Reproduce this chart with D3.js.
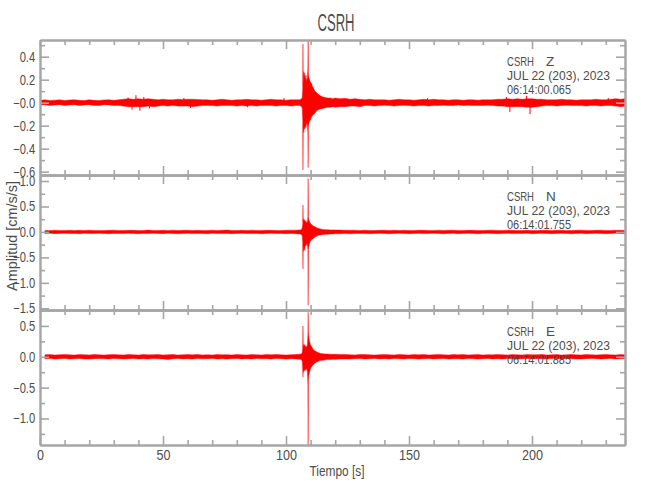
<!DOCTYPE html>
<html><head><meta charset="utf-8">
<script src="https://cdn.jsdelivr.net/npm/d3@7"></script>
<style>body{margin:0;background:#fff}svg{display:block}</style>
</head><body><svg id="c" width="650" height="500"></svg>
<script>
// ---------- texts ----------
const titleText = "CSRH";
const station = "CSRH";
const components = ["Z", "N", "E"];
const dateLabel = "JUL 22 (203), 2023";
const startTimes = ["06:14:00.065", "06:14:01.755", "06:14:01.885"];
const xLabel = "Tiempo [s]";
const yLabel = "Amplitud [cm/s/s]";

// ---------- axes ----------
const xDomain = [0, 237.8];
const xTicksMajor = [0, 50, 100, 150, 200];
const xTicksMinor = [10,20,30,40,60,70,80,90,110,120,130,140,160,170,180,190,210,220,230];
const yDomainZ = [-0.629, 0.545];
const yDomainN = [-1.533, 1.118];
const yDomainE = [-1.43, 0.758];
const yMajorZ = [-0.6, -0.4, -0.2, 0, 0.2, 0.4];
const yMinorZ = [-0.5, -0.3, -0.1, 0.1, 0.3, 0.5];
const yMajorN = [-1.5, -1.0, -0.5, 0, 0.5, 1.0];
const yMinorN = [-1.25, -0.75, -0.25, 0.25, 0.75];
const yMajorE = [-1.0, -0.5, 0, 0.5];
const yMinorE = [-1.25, -0.75, -0.25, 0.25];
const zeroLabels = ["\u22120.0", "0.0", "0.0"];

// ---------- time samples (s) ----------
const tBefore = d3.range(0, 105, 2);          // 0..104 every 2 s
const tEvent = [105,105.5,106,106.3,106.6,106.8,106.9,107.0,107.2,107.4,107.6,107.8,108.1,108.4,108.7,
  108.9,109.0,109.1,109.3,109.6,109.9,110.3,110.8,111.3,111.8,112.3,112.8,113.3,114,115,116,117,118,119];
const tAfter = d3.range(120, 243, 2);          // 120..242 every 2 s

// ---------- Z component envelope (max / min per sample window), cm/s/s ----------
const zHiBefore = [0.020,0.025,0.018,0.022,0.025,0.018,0.024,0.025,0.020,0.018,
  0.025,0.020,0.018,0.024,0.025,0.020,0.025,0.030,0.035,0.030,
  0.035,0.030,0.035,0.030,0.025,0.030,0.025,0.025,0.030,0.028,
  0.030,0.030,0.028,0.025,0.025,0.020,0.025,0.030,0.025,0.020,
  0.025,0.025,0.030,0.025,0.025,0.022,0.025,0.030,0.025,0.025,
  0.022,0.025,0.025];
const zLoBefore = [-0.020,-0.018,-0.025,-0.020,-0.018,-0.024,-0.020,-0.018,-0.025,-0.020,
  -0.018,-0.024,-0.025,-0.018,-0.020,-0.025,-0.024,-0.030,-0.035,-0.035,
  -0.035,-0.035,-0.030,-0.035,-0.030,-0.025,-0.030,-0.025,-0.030,-0.030,
  -0.030,-0.035,-0.030,-0.025,-0.024,-0.025,-0.030,-0.025,-0.024,-0.025,
  -0.030,-0.025,-0.030,-0.025,-0.030,-0.025,-0.024,-0.025,-0.030,-0.025,
  -0.025,-0.030,-0.025];
const zHiEvent = [0.025,0.025,0.030,0.035,0.045, 0.120,0.510,0.150,0.270,0.220,0.260,
  0.200,0.240,0.180,0.220, 0.300,0.600,0.260,0.220,0.200, 0.180,0.170,0.140,0.120,0.100,
  0.090,0.080,0.070,0.060,0.050, 0.045,0.040,0.040,0.035];
const zLoEvent = [-0.025,-0.025,-0.030,-0.035,-0.045, -0.150,-0.585,-0.200,-0.260,-0.220,-0.230,
  -0.200,-0.220,-0.170,-0.200, -0.260,-0.565,-0.220,-0.180,-0.160, -0.150,-0.130,-0.110,-0.100,-0.090,
  -0.075,-0.065,-0.060,-0.055,-0.050, -0.045,-0.040,-0.040,-0.035];
const zHiAfter = [0.040,0.035,0.038,0.030,0.035,0.030,0.025,0.030,0.025,0.025,
  0.025,0.022,0.025,0.030,0.025,0.025,0.022,0.025,0.030,0.025,
  0.030,0.025,0.025,0.022,0.025,0.025,0.020,0.025,0.025,0.022,
  0.025,0.025,0.025,0.030,0.030,0.035,0.030,0.035,0.030,0.035,
  0.035,0.030,0.030,0.025,0.025,0.025,0.030,0.025,0.025,0.022,
  0.025,0.025,0.025,0.030,0.025,0.025,0.030,0.035,0.030,0.035,
  0.035,0.030];
const zLoAfter = [-0.040,-0.035,-0.035,-0.030,-0.030,-0.035,-0.025,-0.025,-0.030,-0.025,
  -0.022,-0.025,-0.030,-0.025,-0.022,-0.025,-0.030,-0.025,-0.025,-0.030,
  -0.025,-0.025,-0.022,-0.025,-0.025,-0.020,-0.025,-0.022,-0.025,-0.025,
  -0.025,-0.022,-0.025,-0.030,-0.030,-0.035,-0.035,-0.035,-0.035,-0.040,
  -0.040,-0.035,-0.030,-0.025,-0.025,-0.030,-0.025,-0.022,-0.025,-0.025,
  -0.025,-0.030,-0.025,-0.025,-0.030,-0.025,-0.025,-0.030,-0.035,-0.030,
  -0.035,-0.030];
// isolated peaks of the Z trace (time s, amplitude cm/s/s)
const zPeakT = [35.8, 37.4, 39.0, 40.6, 42.2, 44.5, 58.5, 61.2, 84.4, 99.2, 157.5, 189.6, 191.0, 197.8, 199.2, 231.0];
const zPeakV = [0.045, -0.060, 0.065, -0.070, 0.050, -0.050, 0.040, -0.045, -0.040, 0.040, 0.040, 0.050, -0.080, 0.060, -0.100, 0.040];

// ---------- N component ----------
const nHiBefore = [null,0.030,0.026,0.033,0.028,0.030,0.035,0.027,0.031,0.029,
  0.034,0.028,0.030,0.026,0.032,0.035,0.029,0.027,0.031,0.033,
  0.028,0.030,0.036,0.029,0.027,0.032,0.030,0.034,0.028,0.031,
  0.035,0.029,0.032,0.027,0.030,0.033,0.028,0.031,0.036,0.030,
  0.027,0.032,0.029,0.034,0.030,0.028,0.033,0.031,0.027,0.030,
  0.032,0.034,0.035];
const nLoBefore = [null,-0.031,-0.028,-0.034,-0.030,-0.027,-0.033,-0.029,-0.035,-0.028,
  -0.030,-0.032,-0.027,-0.031,-0.034,-0.029,-0.030,-0.033,-0.028,-0.031,
  -0.036,-0.029,-0.030,-0.027,-0.032,-0.034,-0.028,-0.031,-0.037,-0.030,
  -0.028,-0.033,-0.029,-0.031,-0.035,-0.027,-0.030,-0.032,-0.029,-0.034,
  -0.031,-0.028,-0.030,-0.033,-0.029,-0.035,-0.030,-0.027,-0.032,-0.030,
  -0.034,-0.031,-0.035];
const nHiEvent = [0.040,0.040,0.045,0.050,0.080, 0.150,0.530,0.200,0.260,0.220,0.240,
  0.200,0.220,0.170,0.200, 0.300,1.050,0.300,0.240,0.200, 0.170,0.150,0.130,0.110,0.100,
  0.085,0.075,0.065,0.060,0.050, 0.045,0.045,0.040,0.040];
const nLoEvent = [-0.040,-0.040,-0.045,-0.050,-0.080, -0.200,-0.730,-0.250,-0.380,-0.320,-0.360,
  -0.250,-0.280,-0.220,-0.260, -0.350,-1.440,-0.350,-0.280,-0.220, -0.180,-0.160,-0.140,-0.120,-0.100,
  -0.085,-0.075,-0.065,-0.060,-0.050, -0.045,-0.045,-0.040,-0.040];
const nHiAfter = [0.036,0.038,0.034,0.031,0.035,0.029,0.033,0.030,0.027,0.032,
  0.034,0.029,0.031,0.028,0.033,0.030,0.027,0.035,0.031,0.028,
  0.030,0.034,0.029,0.032,0.035,0.028,0.030,0.033,0.031,0.027,
  0.029,0.032,0.035,0.030,0.028,0.034,0.031,0.029,0.027,0.033,
  0.030,0.028,0.034,0.031,0.029,0.032,0.035,0.030,0.027,0.031,
  0.034,0.029,0.028,0.032,0.035,0.030,0.028,0.033,0.031,0.030,
  null,null];
const nLoAfter = [-0.038,-0.035,-0.033,-0.036,-0.031,-0.029,-0.032,-0.035,-0.030,-0.028,
  -0.031,-0.034,-0.030,-0.027,-0.032,-0.035,-0.029,-0.028,-0.033,-0.030,
  -0.027,-0.031,-0.035,-0.029,-0.028,-0.034,-0.030,-0.027,-0.031,-0.036,
  -0.030,-0.028,-0.032,-0.034,-0.029,-0.027,-0.033,-0.031,-0.030,-0.028,
  -0.035,-0.030,-0.027,-0.031,-0.034,-0.029,-0.028,-0.032,-0.035,-0.030,
  -0.027,-0.034,-0.031,-0.028,-0.030,-0.035,-0.029,-0.027,-0.032,-0.034,
  null,null];
const nPeakT = [];
const nPeakV = [];

// ---------- E component ----------
const eHiBefore = [null,0.032,0.036,0.029,0.034,0.038,0.031,0.028,0.035,0.033,
  0.030,0.037,0.032,0.029,0.034,0.036,0.031,0.030,0.038,0.033,
  0.029,0.035,0.031,0.034,0.037,0.030,0.033,0.036,0.029,0.032,
  0.035,0.031,0.038,0.030,0.033,0.029,0.036,0.032,0.034,0.030,
  0.037,0.031,0.029,0.035,0.033,0.030,0.036,0.032,0.038,0.031,
  0.029,0.034,0.036];
const eLoBefore = [null,-0.034,-0.030,-0.037,-0.032,-0.029,-0.036,-0.033,-0.030,-0.035,
  -0.038,-0.031,-0.029,-0.034,-0.036,-0.030,-0.033,-0.037,-0.031,-0.029,
  -0.035,-0.032,-0.038,-0.030,-0.034,-0.036,-0.045,-0.033,-0.029,-0.035,
  -0.031,-0.037,-0.030,-0.034,-0.032,-0.029,-0.036,-0.033,-0.038,-0.031,
  -0.030,-0.035,-0.032,-0.037,-0.029,-0.034,-0.031,-0.036,-0.030,-0.033,
  -0.038,-0.032,-0.035];
const eHiEvent = [0.040,0.040,0.045,0.050,0.070, 0.150,0.500,0.150,0.200,0.170,0.200,
  0.150,0.180,0.150,0.200, 0.350,0.720,0.420,0.320,0.250, 0.200,0.170,0.140,0.110,0.095,
  0.085,0.075,0.065,0.055,0.050, 0.045,0.045,0.040,0.040];
const eLoEvent = [-0.040,-0.040,-0.045,-0.050,-0.070, -0.200,-0.330,-0.200,-0.250,-0.200,-0.230,
  -0.200,-0.220,-0.180,-0.250, -0.450,-1.500,-0.400,-0.300,-0.250, -0.200,-0.170,-0.140,-0.120,-0.100,
  -0.090,-0.080,-0.070,-0.060,-0.055, -0.050,-0.045,-0.045,-0.040];
const eHiAfter = [0.040,0.036,0.038,0.033,0.030,0.035,0.037,0.031,0.029,0.034,
  0.036,0.032,0.030,0.037,0.033,0.029,0.035,0.031,0.038,0.030,
  0.034,0.036,0.031,0.029,0.035,0.032,0.037,0.030,0.033,0.036,
  0.029,0.034,0.031,0.038,0.032,0.030,0.035,0.033,0.029,0.036,
  0.031,0.034,0.037,0.030,0.032,0.035,0.029,0.033,0.038,0.031,
  0.030,0.036,0.033,0.029,0.034,0.037,0.031,0.030,0.035,0.032,
  0.034,0.033];
const eLoAfter = [-0.042,-0.038,-0.035,-0.037,-0.032,-0.030,-0.036,-0.033,-0.029,-0.035,
  -0.031,-0.037,-0.030,-0.034,-0.036,-0.029,-0.032,-0.038,-0.031,-0.030,
  -0.035,-0.033,-0.029,-0.037,-0.031,-0.034,-0.036,-0.030,-0.032,-0.038,
  -0.033,-0.029,-0.035,-0.031,-0.036,-0.030,-0.034,-0.037,-0.032,-0.029,
  -0.035,-0.031,-0.033,-0.038,-0.030,-0.034,-0.036,-0.029,-0.032,-0.035,
  -0.037,-0.031,-0.030,-0.034,-0.036,-0.032,-0.029,-0.035,-0.033,-0.031,
  -0.035,-0.034];
const ePeakT = [];
const ePeakV = [];

// ---------- build ----------
const times = tBefore.concat(tEvent, tAfter);
function series(hiA, hiB, hiC, loA, loB, loC) {
  const hi = hiA.concat(hiB, hiC), lo = loA.concat(loB, loC);
  return times.map((t, k) => ({t, hi: hi[k], lo: lo[k]}));
}
const panels = [
  {comp: 0, dom: yDomainZ, major: yMajorZ, minor: yMinorZ,
   data: series(zHiBefore, zHiEvent, zHiAfter, zLoBefore, zLoEvent, zLoAfter),
   peaks: zPeakT.map((t, k) => ({t, v: zPeakV[k]}))},
  {comp: 1, dom: yDomainN, major: yMajorN, minor: yMinorN,
   data: series(nHiBefore, nHiEvent, nHiAfter, nLoBefore, nLoEvent, nLoAfter),
   peaks: nPeakT.map((t, k) => ({t, v: nPeakV[k]}))},
  {comp: 2, dom: yDomainE, major: yMajorE, minor: yMinorE,
   data: series(eHiBefore, eHiEvent, eHiAfter, eLoBefore, eLoEvent, eLoAfter),
   peaks: ePeakT.map((t, k) => ({t, v: ePeakV[k]}))}
];

const svg = d3.select("#c");
const L = 40, R = 625, TOP = 40, PH = 135;
const FONT = "'Liberation Sans Narrow','Liberation Sans',sans-serif";
const TXT = "#4d4d4d", AX = "#a6a6a6";
const x = d3.scaleLinear().domain(xDomain).range([L, R]);
const defs = svg.append("defs");

function styleAxis(g, sx) {
  g.select(".domain").attr("stroke", AX).attr("stroke-width", 2);
  g.selectAll(".tick line").attr("stroke", AX).attr("stroke-width", 1.6);
  g.selectAll(".tick text").attr("fill", TXT).style("font-family", FONT)
    .style("font-size", "14px").attr("transform", `scale(${sx},1)`);
}

panels.forEach((p, i) => {
  const y0 = TOP + i * PH, y1 = y0 + PH;
  const y = d3.scaleLinear().domain(p.dom).range([y1, y0]);
  const clipId = "clip" + i;
  defs.append("clipPath").attr("id", clipId).append("rect")
    .attr("x", L).attr("y", y0).attr("width", R - L).attr("height", PH);

  const trace = svg.append("g").attr("clip-path", `url(#${clipId})`);
  const area = d3.area().defined(d => d.hi != null && d.lo != null)
    .x(d => x(d.t)).y0(d => y(d.lo)).y1(d => y(d.hi));
  trace.append("path").datum(p.data)
    .attr("d", area).attr("fill", "#ff0000").attr("stroke", "rgba(255,0,0,0.6)")
    .attr("stroke-width", 0.7);
  trace.selectAll("line.peak").data(p.peaks).join("line").attr("class", "peak")
    .attr("x1", d => x(d.t)).attr("x2", d => x(d.t))
    .attr("y1", y(0)).attr("y2", d => y(d.v))
    .attr("stroke", "#ff0000").attr("stroke-width", 1);

  // annotation
  const ax = 507;
  const ann = svg.append("g").attr("fill", TXT).style("font-family", FONT).style("font-size", "13.5px");
  const head = ann.append("text").attr("y", y0 + 26);
  head.append("tspan").attr("x", ax).attr("textLength", 27)
    .attr("lengthAdjust", "spacingAndGlyphs").text(station);
  head.append("tspan").attr("x", 546).text(components[p.comp]);
  ann.append("text").attr("x", ax).attr("y", y0 + 40).attr("textLength", 103)
    .attr("lengthAdjust", "spacingAndGlyphs").text(dateLabel);
  ann.append("text").attr("x", ax).attr("y", y0 + 54).attr("textLength", 64)
    .attr("lengthAdjust", "spacingAndGlyphs").text(startTimes[p.comp]);

  const fmt = d => d === 0 ? zeroLabels[i] : d3.format(".1f")(d);
  // left
  svg.append("g").attr("transform", `translate(${L},0)`)
    .call(d3.axisLeft(y).tickValues(p.minor).tickSizeInner(-5).tickSizeOuter(0).tickFormat(""))
    .call(g => styleAxis(g, 0.8));
  svg.append("g").attr("transform", `translate(${L},0)`)
    .call(d3.axisLeft(y).tickValues(p.major).tickSizeInner(-9).tickSizeOuter(0).tickPadding(6).tickFormat(fmt))
    .call(g => styleAxis(g, 0.8));
  // right
  svg.append("g").attr("transform", `translate(${R},0)`)
    .call(d3.axisRight(y).tickValues(p.minor).tickSizeInner(-5).tickSizeOuter(0).tickFormat(""))
    .call(g => styleAxis(g, 1));
  svg.append("g").attr("transform", `translate(${R},0)`)
    .call(d3.axisRight(y).tickValues(p.major).tickSizeInner(-9).tickSizeOuter(0).tickFormat(""))
    .call(g => styleAxis(g, 1));
  // top
  svg.append("g").attr("transform", `translate(0,${y0})`)
    .call(d3.axisTop(x).tickValues(xTicksMinor).tickSizeInner(-5).tickSizeOuter(0).tickFormat(""))
    .call(g => styleAxis(g, 1));
  svg.append("g").attr("transform", `translate(0,${y0})`)
    .call(d3.axisTop(x).tickValues(xTicksMajor).tickSizeInner(-9).tickSizeOuter(0).tickFormat(""))
    .call(g => styleAxis(g, 1));
  // bottom
  const last = i === panels.length - 1;
  svg.append("g").attr("transform", `translate(0,${y1})`)
    .call(d3.axisBottom(x).tickValues(xTicksMinor).tickSizeInner(-5).tickSizeOuter(0).tickFormat(""))
    .call(g => styleAxis(g, 1));
  svg.append("g").attr("transform", `translate(0,${y1})`)
    .call(d3.axisBottom(x).tickValues(xTicksMajor).tickSizeInner(-9).tickSizeOuter(0).tickPadding(5)
      .tickFormat(last ? d3.format("d") : ""))
    .call(g => styleAxis(g, 0.9));
});

// title and axis labels
svg.append("text").attr("x", 336).attr("y", 31).attr("text-anchor", "middle")
  .attr("fill", TXT).style("font-family", FONT).style("font-size", "23px")
  .attr("textLength", 37).attr("lengthAdjust", "spacingAndGlyphs").text(titleText);
svg.append("text").attr("x", 337).attr("y", 476).attr("text-anchor", "middle")
  .attr("fill", TXT).style("font-family", FONT).style("font-size", "14.5px")
  .attr("textLength", 55).attr("lengthAdjust", "spacingAndGlyphs").text(xLabel);
svg.append("text").attr("transform", "translate(17,236) rotate(-90)").attr("text-anchor", "middle")
  .attr("fill", TXT).style("font-family", FONT).style("font-size", "14px")
  .attr("textLength", 110).attr("lengthAdjust", "spacingAndGlyphs").text(yLabel);
</script></body></html>
